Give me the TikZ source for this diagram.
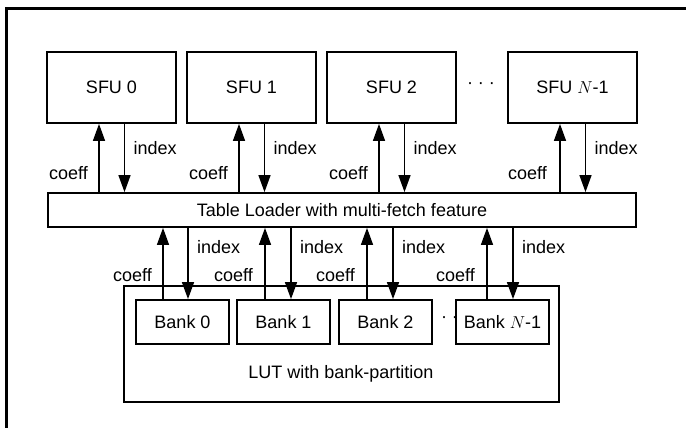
\documentclass[tikz,border=0pt]{standalone}
\usepackage{fontspec}
\setmainfont{Liberation Sans}
\usetikzlibrary{arrows.meta,calc}

\tikzset{
	unit/.style={draw, line width=1.8pt, minimum width=129pt, minimum height=71pt, inner sep=0pt},
	bank/.style={draw, line width=1.8pt, minimum width=93pt, minimum height=44pt, inner sep=0pt},
	lbl/.style={inner sep=0pt},
	flow/.style={line width=1.4pt, -{Triangle[length=17pt,width=12pt]}},
}

\begin{document}
\begin{tikzpicture}[x=1pt, y=-1pt, font=\fontsize{18}{20}\selectfont]
		
		\useasboundingbox (0,0) rectangle (686,428);
		\draw[line width=3pt] (6,428) -- (6,9) -- (686,9); % frame
		
		% SFUs
		\node[unit] (s0) at (111.5,87.5) {SFU 0};
		\node[unit] (s1) at (251.5,87.5) {SFU 1};
		\node[unit] (s2) at (391.5,87.5) {SFU 2};
		\node[unit] (sn) at (572.5,87.5) {SFU \(N\)-1};
		\node (sdots) at (481,86) {· · ·};
		
		% table loader
		\node[draw, line width=1.8pt, minimum width=588pt, minimum height=34pt, inner sep=0pt] (tl) at (342,210) {Table Loader with multi-fetch feature};
		
		% LUT and its banks
		\node[draw, line width=1.8pt, minimum width=435pt, minimum height=116pt] (lut) at (341.5,344) {};
		\node[lbl] (luttxt) at (341,374) {LUT with bank-partition};
		\node[bank] (b0) at (182.5,322) {Bank 0};
		\node[bank] (b1) at (283.5,322) {Bank 1};
		\node[bank] (b2) at (385.5,322) {Bank 2};
		\node[bank] (bn) at (502.5,322) {Bank \(N\)-1};
		\node (bdots) at (449.5,320) {· ·};
		
		% SFU <-> table loader
		\coordinate (s0c) at ($(s0.south)+(-12.5,0)$);
		\coordinate (s0i) at ($(s0.south)+(13,0)$);
		\draw[flow] (tl.north -| s0c) -- (s0c);
		\draw[flow] (s0i) -- (tl.north -| s0i);
		\node[lbl, anchor=east] (s0cl) at ($(s0c)+(-11,49)$) {coeff};
		\node[lbl, anchor=west] (s0il) at ($(s0i)+(9,24)$) {index};
		
		\coordinate (s1c) at ($(s1.south)+(-12.5,0)$);
		\coordinate (s1i) at ($(s1.south)+(13,0)$);
		\draw[flow] (tl.north -| s1c) -- (s1c);
		\draw[flow] (s1i) -- (tl.north -| s1i);
		\node[lbl, anchor=east] (s1cl) at ($(s1c)+(-11,49)$) {coeff};
		\node[lbl, anchor=west] (s1il) at ($(s1i)+(9,24)$) {index};
		
		\coordinate (s2c) at ($(s2.south)+(-12.5,0)$);
		\coordinate (s2i) at ($(s2.south)+(13,0)$);
		\draw[flow] (tl.north -| s2c) -- (s2c);
		\draw[flow] (s2i) -- (tl.north -| s2i);
		\node[lbl, anchor=east] (s2cl) at ($(s2c)+(-11,49)$) {coeff};
		\node[lbl, anchor=west] (s2il) at ($(s2i)+(9,24)$) {index};
		
		\coordinate (snc) at ($(sn.south)+(-12.5,0)$);
		\coordinate (sni) at ($(sn.south)+(13,0)$);
		\draw[flow] (tl.north -| snc) -- (snc);
		\draw[flow] (sni) -- (tl.north -| sni);
		\node[lbl, anchor=east] (sncl) at ($(snc)+(-13,49)$) {coeff};
		\node[lbl, anchor=west] (snil) at ($(sni)+(9,24)$) {index};
		
		% banks <-> table loader
		\coordinate (b0c) at ($(b0.north)+(-19.5,0)$);
		\coordinate (b0i) at ($(b0.north)+(5.5,0)$);
		\draw[flow] (b0c) -- (tl.south -| b0c);
		\draw[flow] (tl.south -| b0i) -- (b0i);
		\node[lbl, anchor=east] (b0cl) at ($(b0c)+(-11,-24)$) {coeff};
		\node[lbl, anchor=west] (b0il) at ($(b0i)+(9,-52)$) {index};
		
		\coordinate (b1c) at ($(b1.north)+(-18.5,0)$);
		\coordinate (b1i) at ($(b1.north)+(7.5,0)$);
		\draw[flow] (b1c) -- (tl.south -| b1c);
		\draw[flow] (tl.south -| b1i) -- (b1i);
		\node[lbl, anchor=east] (b1cl) at ($(b1c)+(-12,-24)$) {coeff};
		\node[lbl, anchor=west] (b1il) at ($(b1i)+(9,-52)$) {index};
		
		\coordinate (b2c) at ($(b2.north)+(-18.5,0)$);
		\coordinate (b2i) at ($(b2.north)+(7.5,0)$);
		\draw[flow] (b2c) -- (tl.south -| b2c);
		\draw[flow] (tl.south -| b2i) -- (b2i);
		\node[lbl, anchor=east] (b2cl) at ($(b2c)+(-12,-24)$) {coeff};
		\node[lbl, anchor=west] (b2il) at ($(b2i)+(9,-52)$) {index};
		
		\coordinate (bnc) at ($(bn.north)+(-15.5,0)$);
		\coordinate (bni) at ($(bn.north)+(10.5,0)$);
		\draw[flow] (bnc) -- (tl.south -| bnc);
		\draw[flow] (tl.south -| bni) -- (bni);
		\node[lbl, anchor=east] (bncl) at ($(bnc)+(-12,-24)$) {coeff};
		\node[lbl, anchor=west] (bnil) at ($(bni)+(9,-52)$) {index};
		
	\end{tikzpicture}
\end{document}
